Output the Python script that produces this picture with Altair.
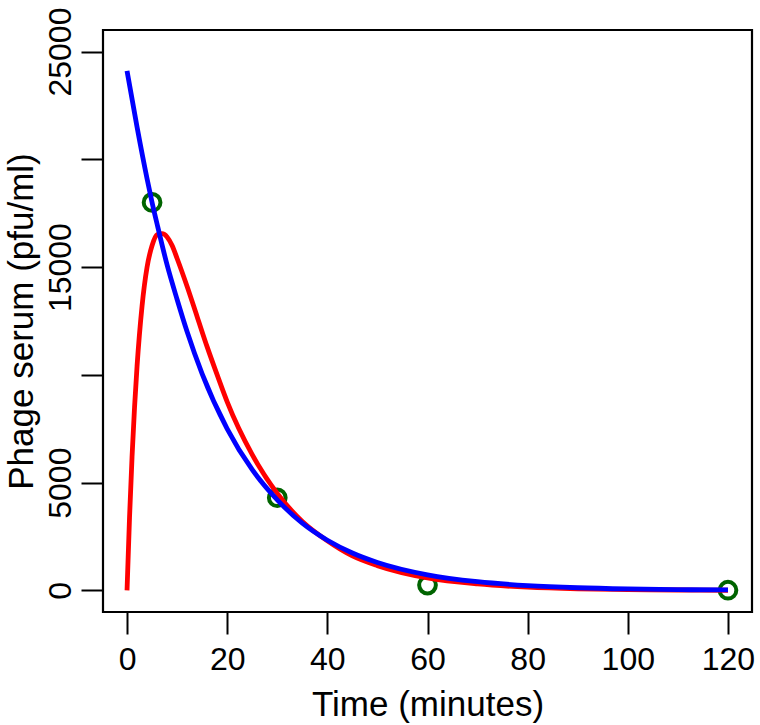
import altair as alt
import pandas as pd

# Observed phage titres in serum
obs_time = [5, 30, 60, 120]
obs_titre = [18000, 4300, 250, 10]

# Model curve with absorption phase (red)
red_time = [0, 0.5, 1, 1.5, 2, 3, 4, 5, 6, 7, 8, 9, 10, 12, 14, 16, 18, 20,
            25, 30, 35, 40, 45, 50, 60, 70, 80, 90, 100, 110, 120]
red_titre = [0, 3400, 6200, 8500, 10400, 13200, 15000, 16000, 16500, 16550,
             16400, 16000, 15400, 14100, 12700, 11300, 10000, 8750,
             6300, 4500, 3200, 2300, 1600, 1150, 580, 300, 150, 75, 40, 20, 10]

# Model curve for direct injection (blue)
blue_time = [0, 2, 4, 5, 6, 8, 10, 12, 15, 20, 25, 30, 35, 40, 45, 50,
             60, 70, 80, 90, 100, 110, 120]
blue_titre = [24100, 21500, 19100, 18000, 17000, 15100, 13500, 12000, 10050,
              7500, 5600, 4200, 3120, 2330, 1740, 1300, 725, 405, 225, 125,
              70, 39, 22]

x_ticks = [0, 20, 40, 60, 80, 100, 120]
y_ticks = [0, 5000, 10000, 15000, 20000, 25000]

obs = pd.DataFrame({"t": obs_time, "v": obs_titre})
red = pd.DataFrame({"t": red_time, "v": red_titre})
blue = pd.DataFrame({"t": blue_time, "v": blue_titre})

FONT = "Liberation Sans"

x_scale = alt.Scale(domain=[-4.8, 124.8], nice=False, zero=False)
y_scale = alt.Scale(domain=[-1000, 26000], nice=False, zero=False)

x_axis = alt.Axis(
    title="Time (minutes)", values=x_ticks, format="d", grid=False,
    domain=False, tickSize=22, tickWidth=2, tickColor="black",
    labelFontSize=32, labelFont=FONT, labelColor="black", labelPadding=10,
    labelBaseline="top", labelFlush=False, labelOverlap=False,
    titleFontSize=35, titleFont=FONT, titleFontWeight="normal",
    titleColor="black", titleBaseline="alphabetic", titleY=103,
)
y_axis = alt.Axis(
    title="Phage serum (pfu/ml)", values=y_ticks, format="d", grid=False,
    domain=False, tickSize=22, tickWidth=2, tickColor="black",
    labelFontSize=32, labelFont=FONT, labelColor="black", labelPadding=11,
    labelAngle=270, labelAlign="center", labelBaseline="alphabetic",
    labelFlush=False, labelOverlap=False,
    labelExpr="datum.value == 0 || datum.value % 10000 == 5000 ? datum.label : ''",
    titleFontSize=35, titleFont=FONT, titleFontWeight="normal",
    titleColor="black", titleBaseline="alphabetic", titleAngle=270,
    titleAlign="center", titleX=-71, titleY=291,
)

points = alt.Chart(obs).mark_point(
    shape="circle", filled=False, color="#006400", size=280, strokeWidth=4,
    opacity=1,
).encode(
    x=alt.X("t:Q", scale=x_scale, axis=x_axis),
    y=alt.Y("v:Q", scale=y_scale, axis=y_axis),
)

red_line = alt.Chart(red).mark_line(
    color="#FF0000", strokeWidth=4.8, interpolate="monotone", clip=True
).encode(x=alt.X("t:Q", scale=x_scale), y=alt.Y("v:Q", scale=y_scale))

blue_line = alt.Chart(blue).mark_line(
    color="#0000FF", strokeWidth=4.8, interpolate="monotone", clip=True
).encode(x=alt.X("t:Q", scale=x_scale), y=alt.Y("v:Q", scale=y_scale))

chart = alt.layer(points, red_line, blue_line).properties(
    width=649,
    height=582,
    autosize=alt.AutoSizeParams(type="none"),
    padding={"left": 103, "top": 30, "right": 8, "bottom": 113},
    background="white",
).configure_view(
    stroke="black", strokeWidth=2.2
)

chart.save("out.html", embed_options={"renderer": "svg", "actions": False})
